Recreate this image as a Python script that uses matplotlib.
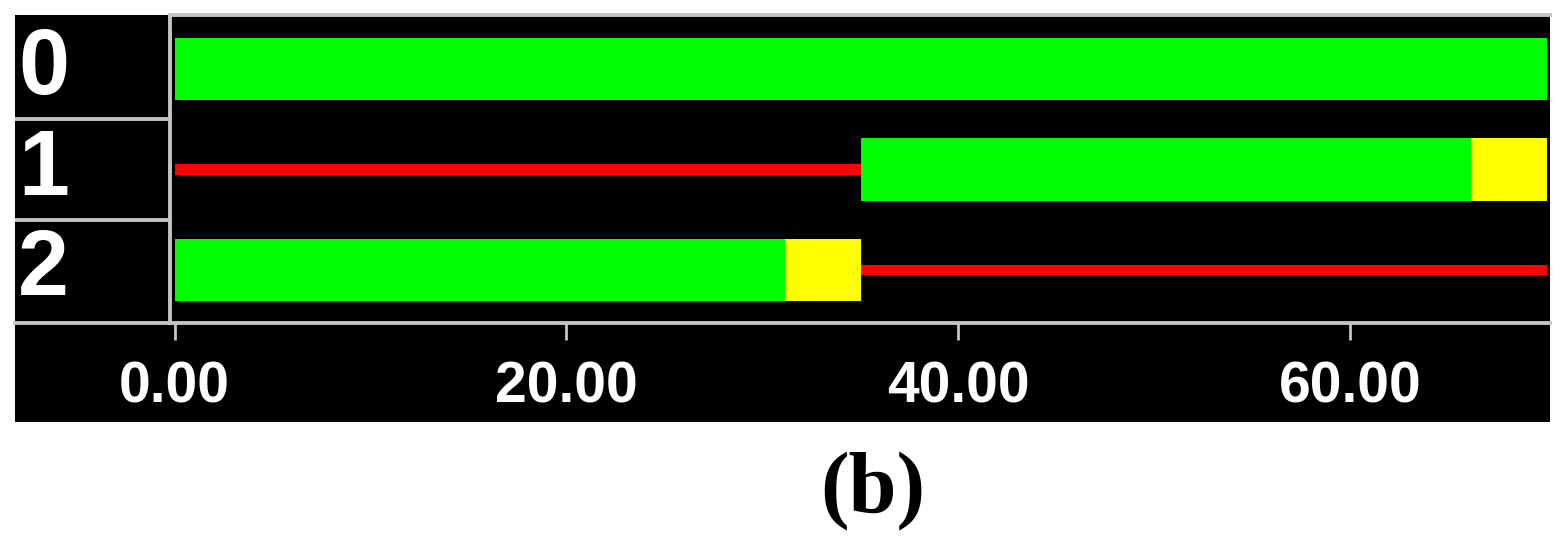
import matplotlib
matplotlib.use("Agg")
import matplotlib.pyplot as plt
from matplotlib.patches import Rectangle

# rows of the timeline (top to bottom)
rows = [0, 1, 2]
row_labels = ["0", "1", "2"]

# green segments: (row, start, end)
run_rows = [0, 1, 2]
run_start = [0.0, 35.05, 0.0]
run_end = [70.05, 66.17, 31.17]

# yellow segments
wait_rows = [1, 2]
wait_start = [66.17, 31.17]
wait_end = [70.05, 35.05]

# red idle lines
idle_rows = [1, 2]
idle_start = [0.0, 35.05]
idle_end = [35.05, 70.05]

xticks = [0, 20, 40, 60]
xtick_labels = ["0.00", "20.00", "40.00", "60.00"]

W, H = 1567, 549
gray = "#c4c4c4"
font = "Liberation Sans"


def fig_box(x0, y0, x1, y1):
    # pixel box (top-left origin) -> figure fraction rect
    return [x0 / W, (H - y1) / H, (x1 - x0) / W, (y1 - y0) / H]


fig = plt.figure(figsize=(W / 100, H / 100), dpi=100)
fig.patch.set_facecolor("white")

# black background of the whole widget
fig.add_artist(Rectangle((15 / W, (H - 422) / H), 1535 / W, 407 / H,
                         transform=fig.transFigure, facecolor="black",
                         edgecolor="none", zorder=0))

ylim = (2.53, -0.54)

# label column
lab = fig.add_axes(fig_box(15, 15, 170, 323))
lab.set_facecolor("black")
lab.set_xlim(0, 1)
lab.set_ylim(*ylim)
for s in lab.spines.values():
    s.set_visible(False)
lab.spines["bottom"].set_visible(True)
lab.spines["bottom"].set_color(gray)
lab.spines["bottom"].set_linewidth(2.8)
lab.set_xticks([])
lab.set_yticks([])
for y in [0.5, 1.5]:
    lab.axhline(y, color=gray, lw=2.8)
for r, t in zip(rows, row_labels):
    lab.text(0.02, r + 0.01, t, color="white", fontsize=66, fontweight="bold",
             family=font, ha="left", va="center")

# main timeline
ax = fig.add_axes(fig_box(170, 15, 1550, 323))
ax.set_facecolor("black")
ax.set_xlim(-0.23, 70.18)
ax.set_ylim(*ylim)

ax.barh(run_rows, [e - s for s, e in zip(run_start, run_end)], left=run_start,
        height=0.62, color="#00ff00")
ax.barh(wait_rows, [e - s for s, e in zip(wait_start, wait_end)], left=wait_start,
        height=0.62, color="#ffff00")
ax.barh(idle_rows, [e - s for s, e in zip(idle_start, idle_end)], left=idle_start,
        height=0.1, color="#ff0000")

for side in ["left", "bottom", "top"]:
    ax.spines[side].set_color(gray)
    ax.spines[side].set_linewidth(2.8)
ax.spines["right"].set_visible(False)
ax.set_yticks([])
ax.set_xticks(xticks)
ax.set_xticklabels(xtick_labels, color="white", fontsize=41, fontweight="bold",
                   family=font)
ax.tick_params(axis="x", colors=gray, labelcolor="white", length=12, width=2,
               pad=15)

fig.text(873 / W, (H - 491) / H, "(b)", fontsize=62, fontweight="bold",
         family="Liberation Serif", ha="center", va="center", color="black")

fig.savefig("out.png", dpi=100, facecolor="white")
